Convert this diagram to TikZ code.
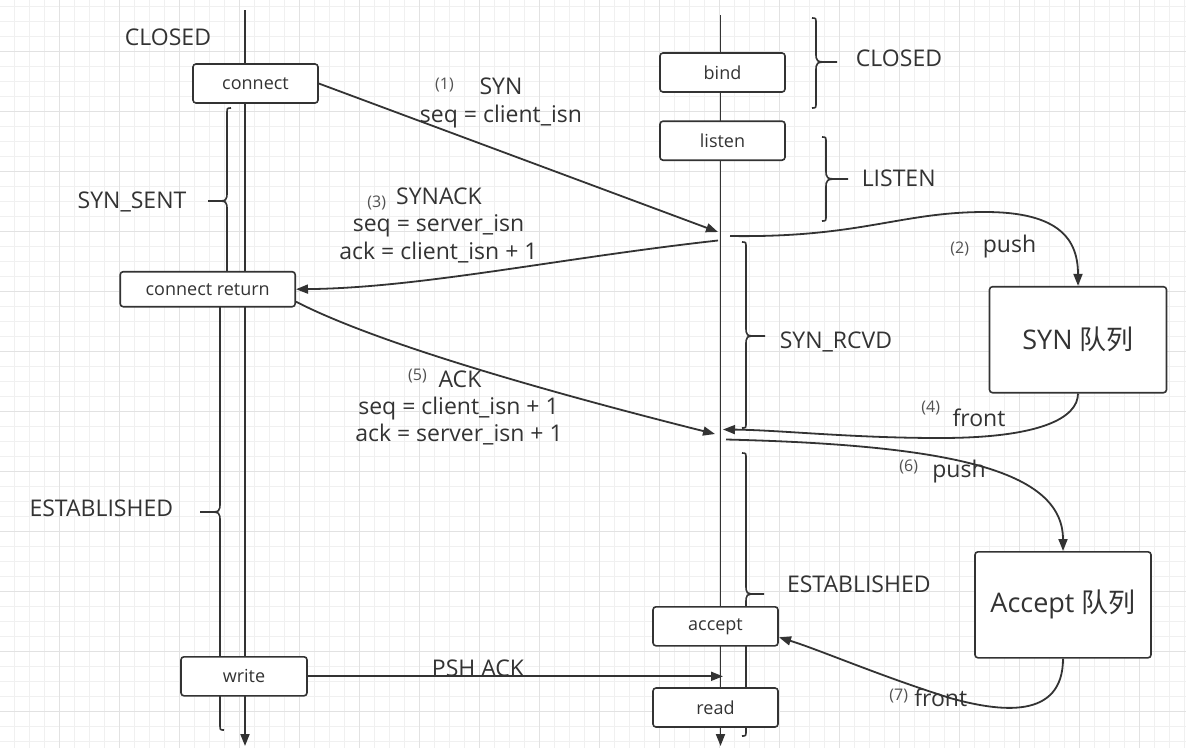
\documentclass[tikz,border=0pt]{standalone}
\usepackage{fontspec}
\setmainfont{Open Sans}
\newfontfamily\cjk{Noto Sans CJK SC}
\usetikzlibrary{arrows.meta}
\definecolor{ink}{HTML}{333333}
\definecolor{gminor}{HTML}{F0F0F0}
\definecolor{gmajor}{HTML}{E2E2E2}
% brace with its tip to the left: x, top, bottom, tip y, tip x
\newcommand\BraceOpen[5]{\draw[bracestroke] (#1+4,#2) .. controls (#1,#2) .. (#1,#2+6) -- (#1,#4-10) .. controls (#1,#4) .. (#5+7,#4) -- (#5,#4) (#5+7,#4) .. controls (#1,#4) .. (#1,#4+10) -- (#1,#3-6) .. controls (#1,#3) .. (#1+4,#3);}
% brace with its tip to the right
\newcommand\BraceClose[5]{\draw[bracestroke] (#1-4,#2) .. controls (#1,#2) .. (#1,#2+6) -- (#1,#4-10) .. controls (#1,#4) .. (#5-7,#4) -- (#5,#4) (#5-7,#4) .. controls (#1,#4) .. (#1,#4+10) -- (#1,#3-6) .. controls (#1,#3) .. (#1-4,#3);}
\tikzset{
  ln/.style={draw=ink, line width=1.8pt},
  arr/.style={ln, -{Triangle[length=12pt,width=9pt]}},
  box/.style={draw=ink, line width=1.6pt, rounded corners=3pt, fill=white, minimum width=125pt, minimum height=39pt, inner sep=0pt, font=\fontsize{18}{20}\selectfont, text=ink},
  queue/.style={box, minimum width=177pt, minimum height=106pt, font=\fontsize{27}{30}\selectfont},
  lbl/.style={text=ink, font=\fontsize{23}{26}\selectfont, inner sep=0pt, anchor=base},
  num/.style={text=ink!85, font=\fontsize{16}{18}\selectfont, inner sep=0pt, anchor=base},
  bracestroke/.style={draw=ink, line width=1.6pt},
  gridminor/.style={draw=gminor, line width=1pt},
  gridmajor/.style={draw=gmajor, line width=1pt},
}
\begin{document}
\begin{tikzpicture}[x=1pt, y=-1pt]
\useasboundingbox (0,0) rectangle (1186,748);
\fill[white] (0,0) rectangle (1186,748);
% grid
\foreach \k in {0,...,79} \draw[gridminor] ({-0.3+15*\k},0) -- ({-0.3+15*\k},748);
\foreach \k in {0,...,49} \draw[gridminor] (0,{6.7+15*\k}) -- (1186,{6.7+15*\k});
\foreach \k in {0,...,19} \draw[gridmajor] ({59.7+60*\k},0) -- ({59.7+60*\k},748);
\foreach \k in {0,...,11} \draw[gridmajor] (0,{51.7+60*\k}) -- (1186,{51.7+60*\k});

% braces
\BraceOpen{227}{108}{285}{201}{208}
\BraceOpen{220}{298}{730}{512}{200}
\BraceClose{816}{18}{108}{62}{837}
\BraceClose{826}{137}{221}{179}{848}
\BraceClose{746}{242}{428}{336}{765}
\BraceClose{746}{453}{736}{594}{764}

% lifelines
\coordinate (c-top) at (245,10);
\coordinate (c-bot) at (245,746);
\coordinate (s-top) at (720.5,15);
\coordinate (s-bot) at (720.5,746);
\draw[arr] (c-top) -- (c-bot);
\draw[arr] (s-top) -- (s-bot);

% boxes
\node[box] (connect) at (255.5,83.5) {connect};
\node[box, minimum width=175pt, minimum height=35pt] (cret) at (207.7,289.2) {connect return};
\node[box, minimum width=126pt] (write) at (244,676.3) {write};
\node[box] (bind) at (722.5,72.5) {bind};
\node[box] (listen) at (722.5,140.7) {listen};
\node[box] (accept) at (715.5,626.3) {accept};
\node[box] (read) at (715.5,707.5) {read};
\node[queue] (synq) at (1078,339.7) {SYN {\cjk 队列}};
\node[queue, minimum width=176pt] (accq) at (1063,604.8) {Accept {\cjk 队列}};

% connector end points on the server lifeline
\coordinate (syn-in) at (718,232);
\coordinate (sa-out) at (718,240.5);
\coordinate (p2-out) at (730,236);
\coordinate (ack-in) at (715,434);
\coordinate (f4-in) at (723,429.5);
\coordinate (p6-out) at (726,439.5);
\coordinate (psh-in) at (723,676.3);
\coordinate (cr-low) at (296,301.7);
\coordinate (acc-in) at (779,637.3);

% connectors
\draw[arr] (connect.east) -- (syn-in);
\draw[arr] (sa-out) .. controls (560,258) and (420,288) .. (cret.east);
\draw[arr] (cr-low) .. controls (380,345) and (560,395) .. (ack-in);
\draw[arr] (p2-out) .. controls (860,238) and (900,212) .. (985,212) .. controls (1060,212) and (1078,240) .. (synq.north);
\draw[arr] (synq.south) .. controls (1078,418) and (1040,438) .. (940,438) .. controls (850,438) and (780,430) .. (f4-in);
\draw[arr] (p6-out) .. controls (950,445) and (1063,470) .. (accq.north);
\draw[arr] (accq.south) .. controls (1063,720) and (1000,712) .. (950,698) .. controls (880,676) and (820,650) .. (acc-in);
\draw[arr] (write.east) -- (psh-in);

% labels
\node[lbl] (t-closed-c) at (168,45.7) {CLOSED};
\node[lbl] (t-synsent) at (132,208) {SYN\_SENT};
\node[lbl] (t-est-c) at (101.3,516) {ESTABLISHED};
\node[lbl] (t-closed-s) at (899,66.7) {CLOSED};
\node[lbl] (t-listen) at (898.7,186) {LISTEN};
\node[lbl] (t-synrcvd) at (836,348.3) {SYN\_RCVD};
\node[lbl] (t-est-s) at (858.8,592.3) {ESTABLISHED};

\node[num] (n1) at (444.5,89) {(1)};
\node[lbl] (t-syn) at (501,94) {SYN};
\node[lbl] (t-seq1) at (501,122) {seq = client\_isn};

\node[num] (n3) at (376.7,207.7) {(3)};
\node[lbl] (t-synack) at (439,204.3) {SYNACK};
\node[lbl] (t-seq3) at (438.5,231.5) {seq = server\_isn};
\node[lbl] (t-ack3) at (438.5,259) {ack = client\_isn + 1};

\node[num] (n2) at (959.7,253) {(2)};
\node[lbl] (t-push2) at (1009.5,252.7) {push};

\node[num] (n4) at (930.7,412) {(4)};
\node[lbl] (t-front4) at (979,426) {front};

\node[num] (n5) at (417.5,380.3) {(5)};
\node[lbl] (t-ack) at (460,387.3) {ACK};
\node[lbl] (t-seq5) at (458.5,414) {seq = client\_isn + 1};
\node[lbl] (t-ack5) at (459,441.7) {ack = server\_isn + 1};

\node[num] (n6) at (908.7,471) {(6)};
\node[lbl] (t-push6) at (959,477.5) {push};

\node[num] (n7) at (898.7,700.3) {(7)};
\node[lbl] (t-front7) at (940.8,706.7) {front};

\node[lbl] (t-psh) at (478,676.3) {PSH ACK};
\end{tikzpicture}
\end{document}
